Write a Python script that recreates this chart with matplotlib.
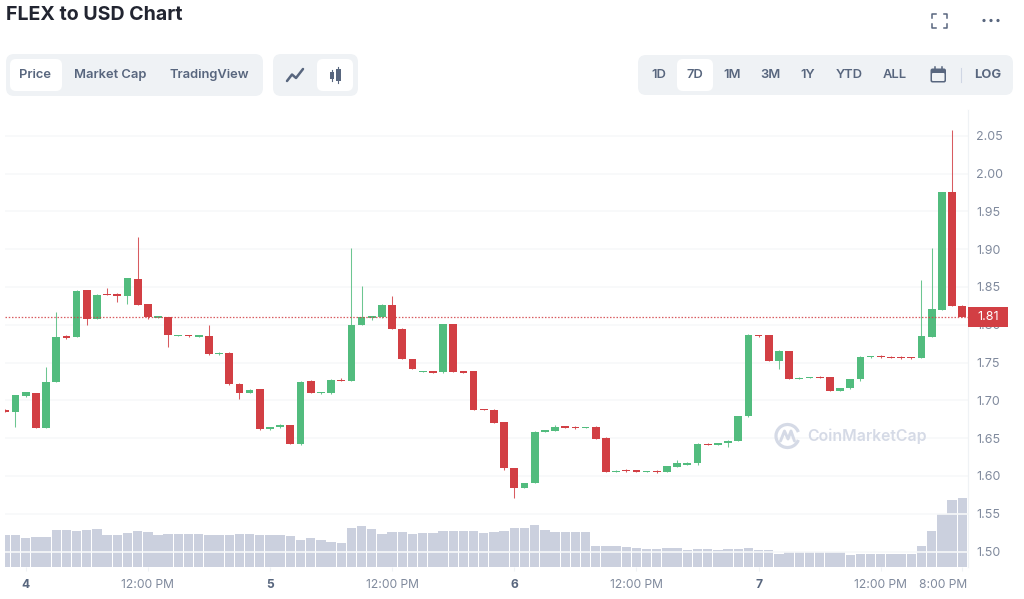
import matplotlib
matplotlib.use("Agg")
import matplotlib.pyplot as plt
from matplotlib.patches import Arc, Circle, FancyBboxPatch, Rectangle
from matplotlib.transforms import ScaledTranslation

plt.rcParams["font.family"] = ["Inter", "DejaVu Sans"]

W, H = 1024, 599

# 2-hourly candles, first one clipped by the left edge of the plot
opens = [1.687, 1.6839, 1.7059, 1.7095, 1.6632, 1.7244, 1.7848, 1.7835, 1.8456, 1.8077,
         1.8412, 1.8412, 1.8385, 1.8606, 1.8271, 1.8095, 1.8104, 1.7848, 1.7861, 1.7839,
         1.7857, 1.7606, 1.7628, 1.7222, 1.7099, 1.7148, 1.6615, 1.6641, 1.6672, 1.6416,
         1.7249, 1.7090, 1.7099, 1.7271, 1.7261, 1.7997, 1.8094, 1.8099, 1.8266, 1.7949,
         1.7548, 1.7371, 1.7384, 1.7371, 1.8006, 1.7384, 1.7384, 1.6886, 1.6873, 1.6710,
         1.6106, 1.5841, 1.5903, 1.6582, 1.6600, 1.6657, 1.6653, 1.6635, 1.6644, 1.6507,
         1.6057, 1.6079, 1.6075, 1.6053, 1.6071, 1.6057, 1.6123, 1.6150, 1.6167, 1.6427,
         1.6414, 1.6432, 1.6467, 1.6789, 1.7864, 1.7860, 1.7525, 1.7653, 1.7282, 1.7295,
         1.7313, 1.7304, 1.7128, 1.7159, 1.7278, 1.7569, 1.7586, 1.7578, 1.7573, 1.7569,
         1.7560, 1.7842, 1.8199, 1.9751, 1.8252]
closes = [1.685, 1.7064, 1.7104, 1.6632, 1.7244, 1.7839, 1.7822, 1.8452, 1.8077, 1.8399,
          1.8394, 1.8385, 1.8615, 1.8267, 1.8104, 1.8113, 1.7861, 1.7866, 1.7848, 1.7861,
          1.7606, 1.7623, 1.7218, 1.7099, 1.7139, 1.6619, 1.6641, 1.6672, 1.6425, 1.7244,
          1.7099, 1.7108, 1.7275, 1.7253, 1.7993, 1.8103, 1.8112, 1.8266, 1.7949, 1.7548,
          1.7415, 1.7384, 1.7367, 1.8006, 1.7380, 1.7367, 1.6877, 1.6873, 1.6705, 1.6101,
          1.5841, 1.5907, 1.6586, 1.6604, 1.6653, 1.6639, 1.6635, 1.6648, 1.6494, 1.6057,
          1.6071, 1.6062, 1.6057, 1.6066, 1.6057, 1.6132, 1.6167, 1.6176, 1.6427, 1.6410,
          1.6436, 1.6467, 1.6789, 1.7869, 1.7847, 1.7525, 1.7653, 1.7287, 1.7300, 1.7309,
          1.7295, 1.7128, 1.7163, 1.7278, 1.7578, 1.7586, 1.7569, 1.7560, 1.7556, 1.7556,
          1.7851, 1.8204, 1.9751, 1.8248, 1.8102]
highs = [1.688, 1.7070, 1.7112, 1.7098, 1.7434, 1.8174, 1.7860, 1.8456, 1.8460, 1.8402,
         1.8482, 1.8416, 1.8618, 1.9164, 1.8275, 1.8118, 1.8106, 1.7870, 1.7864, 1.7865,
         1.7998, 1.7641, 1.7641, 1.7225, 1.7150, 1.7150, 1.6645, 1.6680, 1.6675, 1.7258,
         1.7262, 1.7112, 1.7280, 1.7293, 1.9016, 1.8518, 1.8115, 1.8270, 1.8377, 1.7952,
         1.7550, 1.7388, 1.7390, 1.8010, 1.8010, 1.7390, 1.7388, 1.6890, 1.6890, 1.6712,
         1.6108, 1.5910, 1.6590, 1.6610, 1.6679, 1.6662, 1.6656, 1.6650, 1.6666, 1.6510,
         1.6075, 1.6085, 1.6080, 1.6070, 1.6075, 1.6136, 1.6216, 1.6180, 1.6430, 1.6432,
         1.6440, 1.6470, 1.6792, 1.7872, 1.7870, 1.7864, 1.7660, 1.7658, 1.7304, 1.7314,
         1.7318, 1.7308, 1.7168, 1.7282, 1.7582, 1.7590, 1.7600, 1.7582, 1.7580, 1.7572,
         1.8592, 1.9019, 1.9755, 2.0576, 1.8256]
lows = [1.6845, 1.6645, 1.7050, 1.6628, 1.6628, 1.7240, 1.7815, 1.7832, 1.7998, 1.8073,
        1.8390, 1.8306, 1.8271, 1.8263, 1.8073, 1.8090, 1.7703, 1.7845, 1.7840, 1.7835,
        1.7595, 1.7600, 1.7205, 1.7011, 1.7095, 1.6606, 1.6610, 1.6636, 1.6420, 1.6412,
        1.7095, 1.7085, 1.7086, 1.7250, 1.7258, 1.7994, 1.8059, 1.8095, 1.7945, 1.7545,
        1.7410, 1.7368, 1.7364, 1.7360, 1.7376, 1.7360, 1.6873, 1.6870, 1.6700, 1.6075,
        1.5713, 1.5838, 1.5900, 1.6578, 1.6596, 1.6635, 1.6620, 1.6632, 1.6490, 1.6053,
        1.6054, 1.6058, 1.6050, 1.6050, 1.6045, 1.6053, 1.6120, 1.6146, 1.6141, 1.6406,
        1.6410, 1.6379, 1.6463, 1.6785, 1.7843, 1.7520, 1.7414, 1.7283, 1.7278, 1.7292,
        1.7292, 1.7124, 1.7125, 1.7155, 1.7250, 1.7565, 1.7565, 1.7556, 1.7545, 1.7550,
        1.7556, 1.7838, 1.8195, 1.8244, 1.8098]
# volume is only shown relative to itself, no scale on the chart
volumes = [32.0, 32.0, 29.3, 30.0, 30.0, 37.3, 37.3, 36.0, 36.7, 38.3,
           32.3, 32.0, 34.3, 36.0, 34.7, 32.3, 33.3, 33.3, 33.3, 33.3,
           32.3, 32.3, 32.3, 33.3, 33.3, 32.3, 32.3, 32.0, 30.7, 27.3,
           29.3, 27.3, 25.3, 23.7, 39.3, 41.3, 38.3, 33.3, 34.7, 35.3,
           33.3, 34.3, 34.3, 35.7, 35.7, 35.7, 35.7, 34.3, 34.7, 36.0,
           39.0, 39.0, 41.7, 37.3, 35.3, 35.3, 35.3, 35.3, 21.3, 21.3,
           21.3, 20.3, 19.0, 18.3, 18.3, 19.0, 19.3, 17.3, 17.7, 17.7,
           16.7, 18.3, 18.3, 19.0, 17.0, 17.0, 13.3, 14.7, 14.7, 14.7,
           14.7, 15.0, 14.7, 12.3, 13.3, 13.3, 13.3, 13.3, 13.3, 12.7,
           21.3, 35.7, 53.3, 66.7, 68.7]

price_ticks = [1.50, 1.55, 1.60, 1.65, 1.70, 1.75, 1.80, 1.85, 1.90, 1.95, 2.00, 2.05]
time_ticks = [2, 14, 26, 38, 50, 62, 74, 86, 94]
time_labels = ["4", "12:00 PM", "5", "12:00 PM", "6", "12:00 PM", "7", "12:00 PM", "8:00 PM"]
day_labels = {"4", "5", "6", "7"}
last_price = 1.81

metric_tabs = ["Price", "Market Cap", "TradingView"]
range_tabs = ["1D", "7D", "1M", "3M", "1Y", "YTD", "ALL"]

GREEN = "#52bc7e"
RED = "#d23f44"
VOL = "#cbd0de"
GRID = "#f7f8f9"
MUTED = "#808a9d"
SLATE = "#58667e"
PANEL = "#eff2f5"

fig = plt.figure(figsize=(W / 100, H / 100), dpi=100, facecolor="white")


def px_axes(left, top, right, bottom):
    return fig.add_axes([left / W, 1 - bottom / H, (right - left) / W, (bottom - top) / H])


# page furniture lives in an axes measured in pixels
ui = fig.add_axes([0, 0, 1, 1], zorder=5)
ui.set_xlim(0, W)
ui.set_ylim(H, 0)
ui.axis("off")
ui.patch.set_alpha(0)

vol_ax = px_axes(5, 110, 968, 567)
ax = vol_ax.twinx()

# --- Volume ---------------------------------------------------------------
xs = list(range(len(closes)))
vol_ax.bar(xs, volumes, width=0.92, color=VOL, linewidth=0, zorder=2)
vol_ax.set_ylim(0, 457)
vol_ax.set_xlim(-0.03, 94.57)
vol_ax.set_yticks([])
vol_ax.set_xticks(time_ticks)
vol_ax.set_xticklabels(time_labels)
vol_ax.tick_params(axis="x", length=3, width=0.8, color="#eff2f5", pad=5.5, labelsize=8.7, labelcolor=MUTED)
for lab in vol_ax.get_xticklabels():
    if lab.get_text() in day_labels:
        lab.set_color(SLATE)
        lab.set_fontweight("bold")
# the last label is kept inside the plot edge
last_lab = vol_ax.get_xticklabels()[-1]
last_lab.set_ha("right")
last_lab.set_transform(last_lab.get_transform() + ScaledTranslation(5 / 100, 0, fig.dpi_scale_trans))

# --- Candles --------------------------------------------------------------
colors = [GREEN if c >= o else RED for o, c in zip(opens, closes)]
ax.vlines(xs, lows, highs, colors=colors, linewidth=0.75, zorder=3, alpha=0.85)
ax.bar(xs, [abs(c - o) for o, c in zip(opens, closes)],
       bottom=[min(o, c) for o, c in zip(opens, closes)],
       width=0.76, color=colors, linewidth=0, zorder=4)
ax.set_ylim(1.4795, 2.0840)
ax.set_xlim(-0.03, 94.57)
ax.set_yticks(price_ticks)
ax.set_yticklabels([f"{t:.2f}" for t in price_ticks])
ax.yaxis.tick_right()
ax.tick_params(axis="y", length=0, pad=6, labelsize=9, labelcolor=MUTED)
ax.grid(True, axis="y", color=GRID, linewidth=1.2, zorder=0)
ax.set_axisbelow(True)
ax.axhline(last_price, color=RED, linewidth=0.9, linestyle=(0, (1.2, 1.4)), alpha=0.85, zorder=5)

for a in (ax, vol_ax):
    for side in ("top", "left", "bottom"):
        a.spines[side].set_visible(False)
    a.spines["right"].set_color(PANEL)
    a.spines["right"].set_linewidth(0.8)
    a.patch.set_alpha(0)

# current price tag over the axis
ui.add_patch(Rectangle((968, 307), 40, 20, facecolor=RED, edgecolor="none"))
ui.text(987.7, 317.3, f"{last_price:.2f}", color="white", fontsize=9, ha="center", va="center")

# --- Watermark ------------------------------------------------------------
WM = "#d5dae6"
ui.add_patch(Arc((787.5, 436), 23, 23, theta1=20, theta2=340, color=WM, linewidth=2.3))
ui.plot([780.5, 784.5, 788, 791, 794.5], [441, 431, 439, 431, 441], color=WM, linewidth=2.1, solid_capstyle="round")
ui.text(807.5, 436.5, "CoinMarketCap", color=WM, fontsize=11.4, fontweight="semibold", va="center")

# --- Header ---------------------------------------------------------------
ui.text(6, 14.5, "FLEX to USD Chart", color="#222531", fontsize=14.1, fontweight="bold", va="center")


def panel(left, top, right, bottom, color, radius):
    ui.add_patch(FancyBboxPatch((left + radius, top + radius), right - left - 2 * radius, bottom - top - 2 * radius,
                                boxstyle=f"round,pad={radius},rounding_size={radius}",
                                facecolor=color, edgecolor="none", zorder=1))


panel(6, 54, 263, 96, PANEL, 8)
panel(273, 54, 358, 96, PANEL, 8)
panel(638, 55, 1013, 95, PANEL, 8)
panel(10, 59, 62, 91, "white", 6)
panel(317, 59, 353, 91, "white", 6)
panel(677, 59, 713, 91, "white", 6)

for label, x in zip(metric_tabs, [35.5, 110.5, 209.5]):
    ui.text(x, 75, label, color=SLATE, fontsize=9.3, fontweight="semibold", ha="center", va="center", zorder=3)
for label, x in zip(range_tabs, [659, 695, 732, 770.7, 808, 849.7, 894.7]):
    ui.text(x, 75, label, color=SLATE, fontsize=9.3, fontweight="semibold", ha="center", va="center", zorder=3)
ui.text(987.7, 75, "LOG", color=SLATE, fontsize=9.3, fontweight="bold", ha="center", va="center", zorder=3)
ui.plot([960.7, 960.7], [68, 82], color="#cfd6e4", linewidth=0.8, zorder=3)

# line-chart icon
ui.plot([287, 292, 296, 303], [81, 74.5, 78, 69], color=SLATE, linewidth=1.8, solid_capstyle="round", zorder=3)
# candle icon
ui.add_patch(Rectangle((330, 72), 3.5, 6.5, facecolor=SLATE, zorder=3))
ui.plot([331.7, 331.7], [70, 80.5], color=SLATE, linewidth=0.8, zorder=3)
ui.add_patch(Rectangle((336, 69), 4.5, 12, facecolor=SLATE, zorder=3))
ui.plot([338.2, 338.2], [67, 83], color=SLATE, linewidth=0.8, zorder=3)

# calendar icon
panel(930.5, 68.5, 946, 82.5, SLATE, 2)
panel(932, 73, 944.5, 81, PANEL, 1)
ui.plot([934.5, 934.5], [66.5, 70], color=SLATE, linewidth=1.1, zorder=3)
ui.plot([942, 942], [66.5, 70], color=SLATE, linewidth=1.1, zorder=3)

# fullscreen corners and the three-dot menu
for cx, cy, dx, dy in [(932, 14, 1, 1), (947, 14, -1, 1), (932, 27.5, 1, -1), (947, 27.5, -1, -1)]:
    ui.plot([cx + 3.5 * dx, cx, cx], [cy, cy, cy + 3.5 * dy], color=SLATE, linewidth=1.1, zorder=3)
for x in (984, 991, 998):
    ui.add_patch(Circle((x, 20.5), 1.6, facecolor=SLATE, edgecolor="none", zorder=3))

fig.savefig("out.png", dpi=100)
